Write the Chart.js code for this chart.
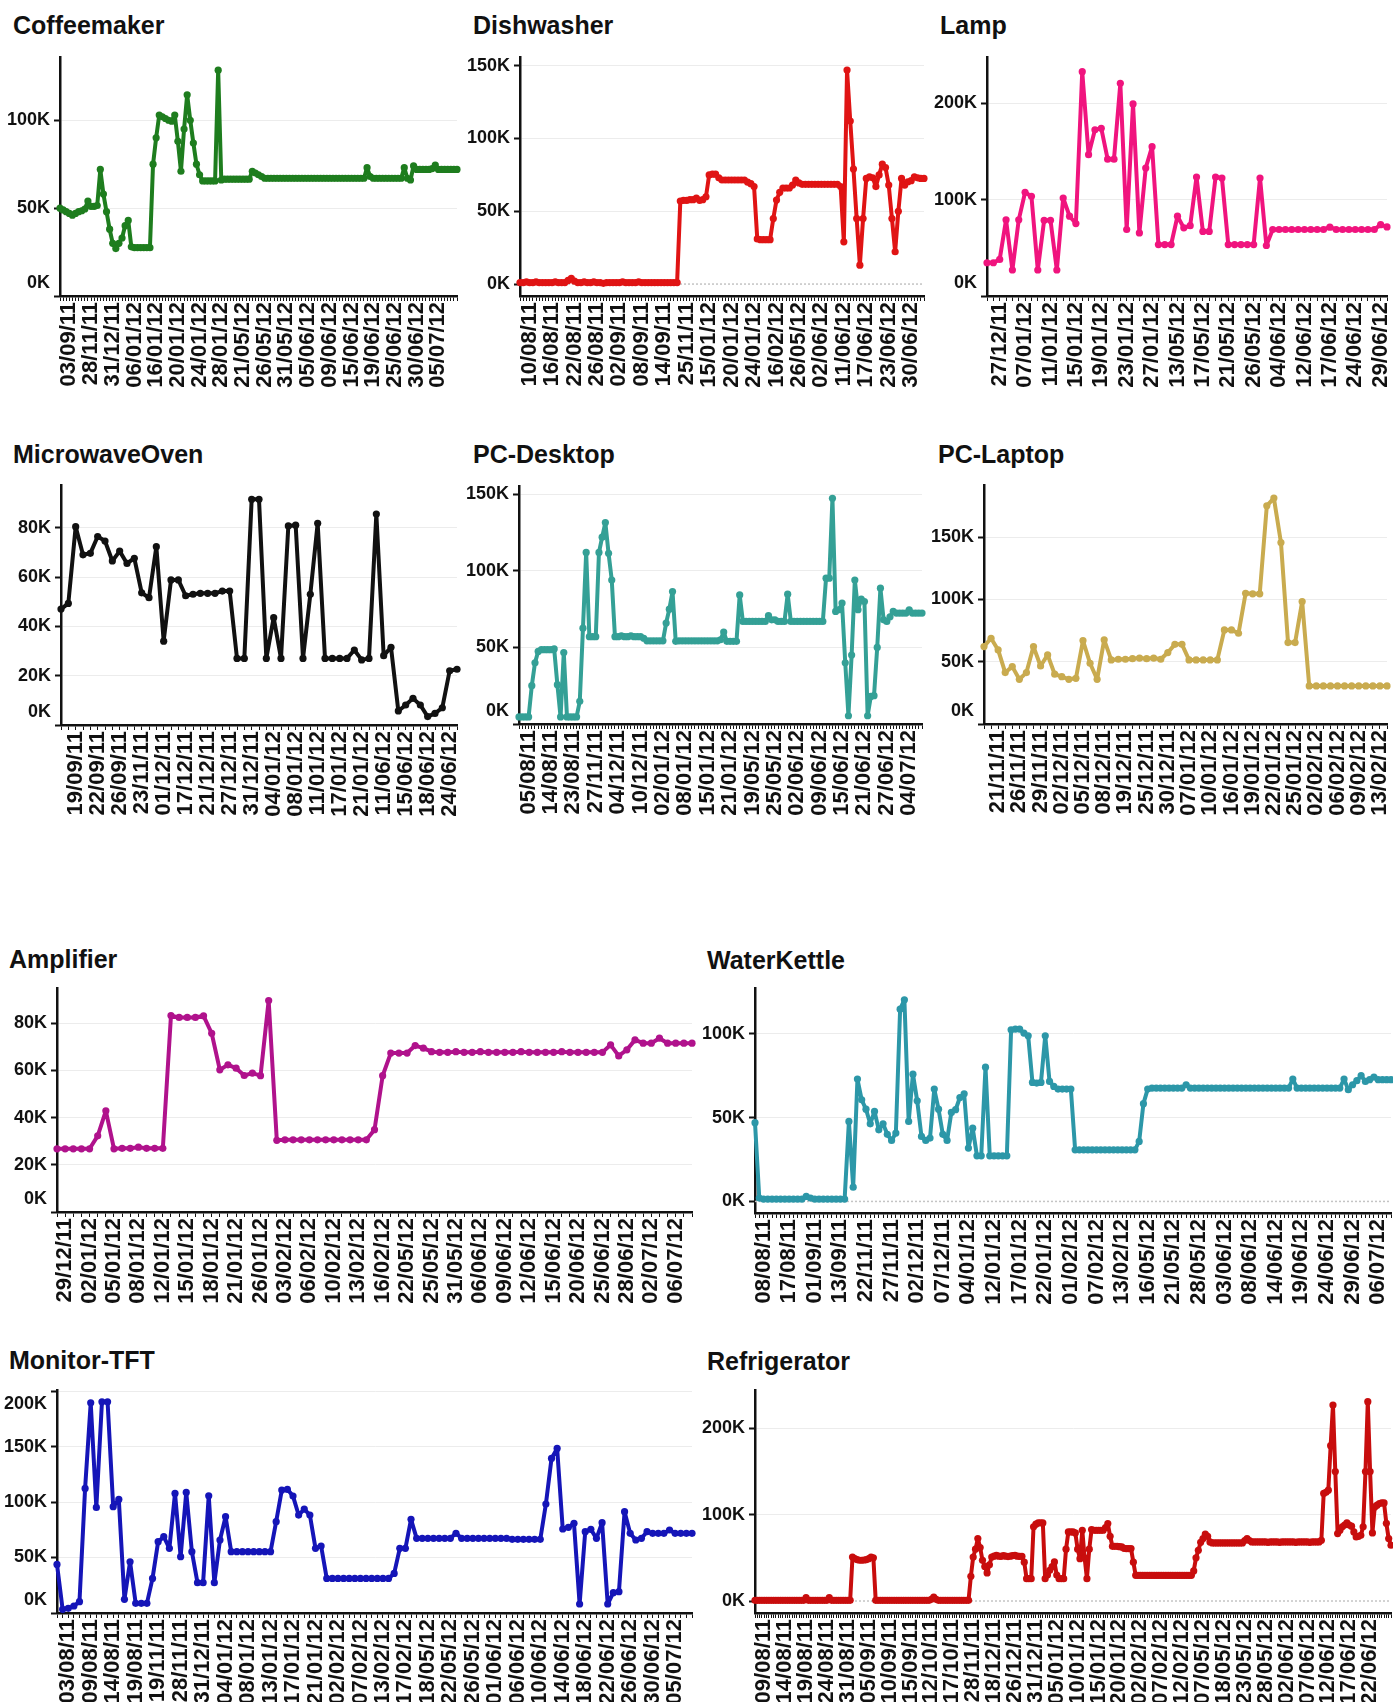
<!DOCTYPE html>
<html><head><meta charset="utf-8">
<script src="https://cdn.jsdelivr.net/npm/chart.js@4.4.1/dist/chart.umd.min.js"></script>
<style>
html,body{margin:0;padding:0;background:#fff;overflow:hidden;width:1393px;height:1702px;position:relative;}
.title{position:absolute;font:bold 25px/25px 'Liberation Sans',Arial,sans-serif;color:#111;white-space:nowrap;}
canvas{position:absolute;}
</style></head><body>
<script>
// ---------- DATA (values in thousands) ----------
const coffeeTicks = ['03/09/11','28/11/11','31/12/11','06/01/12','16/01/12','20/01/12','24/01/12','28/01/12','21/05/12','26/05/12','31/05/12','05/06/12','09/06/12','15/06/12','19/06/12','25/06/12','30/06/12','05/07/12'];
const coffeeValues = [
50,49,48,47,46,47,48,48.5,49.5,54,
51,51,51.5,72,58,48,38,30,27,30,
33,40,43,28,27.5,27.5,27.5,27.5,27.5,27.5,
75,90,103,102,101,100,99.5,103,88,71,
95,114.5,100,87,75,69,65.5,65.5,65.5,65.5,
65.5,128.5,66,66.5,66.5,66.5,66.5,66.5,66.5,66.5,
66.5,66.5,71,70,69,68,67,67,67,67,
67,67,67,67,67,67,67,67,67,67,
67,67,67,67,67,67,67,67,67,67,
67,67,67,67,67,67,67,67,67,73,
68,67,67,67,67,67,67,67,67,67,
67,73,67,66,74,72,72,72,72,72,
72.5,74.5,72,72,72,72,72,72,72];
const coffeeYTicks = [0,50,100];

const dishTicks = ['10/08/11','16/08/11','22/08/11','26/08/11','02/09/11','08/09/11','14/09/11','25/11/11','15/01/12','20/01/12','24/01/12','16/02/12','26/05/12','02/06/12','11/06/12','17/06/12','23/06/12','30/06/12'];
const dishValues = [
1,1,1.5,1,1,1.5,1,1,1,1,
1,1.5,1,1,1,2.5,4,2,1,1,
1.5,1,1,1.5,1,1,0.5,1,1,1,
1,1,1.5,1,1,1,1,1.5,1,1,
1,1,1,1,1,1,1,1,1,1,
57,57.5,57.5,58,58,59,57.5,58,60,75,
75.5,75.5,73,71.5,71.5,71.5,71.5,71.5,71.5,71.5,
71.5,70,69,67,31,30.5,30.5,30.5,30.5,45,
57.7,63,66,66,66,68,71.5,69.5,68.5,68.5,
68.5,68.5,68.5,68.5,68.5,68.5,68.5,68.5,68.5,68.5,
67,29,147,112,79,45,13,45,72.6,73.7,
73,67,75,82.4,80,68,45,22.2,50,72.6,
68,70.3,71,73.7,73,72.6,72.6];
const dishYTicks = [0,50,100,150];

const lampTicks = ['27/12/11','07/01/12','11/01/12','15/01/12','19/01/12','23/01/12','27/01/12','13/05/12','17/05/12','21/05/12','26/05/12','04/06/12','12/06/12','17/06/12','24/06/12','29/06/12'];
const lampValues = [
34.5,34.5,38,79,27,79,107.6,103.4,27,78.6,
78.6,27,101.7,82.8,75.2,232.8,146.6,172.4,174,142,
142,220.7,69,199.3,65.5,132.8,155,53.4,53.4,53.4,
82.8,70.7,73,123.4,67,67,123.4,122.4,53.4,53.4,
53.4,53.4,53.4,122.4,52.4,69,69,69,69,69,
69,69,69,69,71.4,69,69,69,69,69,
69,69,74,71.7];
const lampYTicks = [0,100,200];

const microTicks = ['19/09/11','22/09/11','26/09/11','23/11/11','01/12/11','17/12/11','21/12/11','27/12/11','31/12/11','04/01/12','08/01/12','11/01/12','17/01/12','21/01/12','11/06/12','15/06/12','18/06/12','24/06/12'];
const microValues = [
47,49.3,80.4,69,69.6,76.4,74.6,66.5,70.5,65.5,
67.6,53.6,51.6,72.3,34,58.8,58.8,52.4,53,53.4,
53.4,53.4,54.3,54.3,27,27,91.5,91.5,27,43.5,
27,80.7,81,27,53,81.8,27,27,27,27,
30.4,26.4,27,85.5,28.1,31.5,5.7,8.1,10.8,8.1,
3.4,4.7,7,22,22.6];
const microYTicks = [0,10,20,30,40,50,60,70,80,90];

const desktopTicks = ['05/08/11','14/08/11','23/08/11','27/11/11','04/12/11','10/12/11','02/01/12','08/01/12','15/01/12','21/01/12','19/05/12','25/05/12','02/06/12','09/06/12','15/06/12','21/06/12','27/06/12','04/07/12'];
const desktopValues = [
4.6,4.6,4.6,4.6,25,40,47.4,48.5,48.5,48.5,
48.5,49,25.7,4.6,46.7,4.6,4.6,4.6,4.6,14.8,
62.6,112,57,57,57,112,122,131.5,111.5,94,
57,57,57.5,57,57,57.5,57,57,57,56,
54.3,54.3,54.3,54.3,54.3,54.3,65.9,75,86.5,54,
54.3,54.3,54.3,54.3,54.3,54.3,54.3,54.3,54.3,54.3,
54.3,54.3,54.3,55,60,54,54,54,54,84.3,
67,67,67,67,67,67,67,67,70.7,68,
68,67,67,67,84.8,67,67,67,67,67,
67,67,67,67,67,67,95.2,95.2,147.4,73.5,
74.6,79,40,5.4,45,94,74.6,81.5,80,5.4,
18,18.5,50,88.7,68,67,70,73.5,72.4,72.4,
72.4,72.4,74.6,72.4,72.4,72.4,72.4];
const desktopYTicks = [0,50,100,150];

const laptopTicks = ['21/11/11','26/11/11','29/11/11','02/12/11','05/12/11','08/12/11','19/12/11','25/12/11','30/12/11','07/01/12','10/01/12','16/01/12','19/01/12','22/01/12','25/01/12','02/02/12','06/02/12','09/02/12','13/02/12'];
const laptopValues = [
62.2,68.9,59.5,41.3,46.1,35.9,41.3,62.2,46.6,55.5,
40,38,35.9,36.7,67,48.8,35.9,67.6,51.5,52,
52,52.5,53,52.5,53,52,57.4,64,64,51.5,
51.5,51.5,51.5,51.5,75.6,75.6,72.9,105,104.6,104.6,
175.3,181.5,145.8,65.4,65.4,98.4,30.6,30.6,30.6,30.6,
30.6,30.6,30.6,30.6,30.6,30.6,30.6,30.6];
const laptopYTicks = [0,50,100,150];

const ampTicks = ['29/12/11','02/01/12','05/01/12','08/01/12','12/01/12','15/01/12','18/01/12','21/01/12','26/01/12','03/02/12','06/02/12','10/02/12','13/02/12','16/02/12','22/05/12','25/05/12','31/05/12','06/06/12','09/06/12','12/06/12','15/06/12','20/06/12','25/06/12','28/06/12','02/07/12','06/07/12'];
const ampValues = [
26.8,26.8,26.8,26.8,26.8,32.3,42.9,26.8,27,27,
27.5,27,27,27,83.3,82.5,82.5,82.5,83.2,75.8,
60.3,62.4,61,57.9,58.9,57.8,89.7,30.4,30.6,30.6,
30.6,30.6,30.6,30.6,30.6,30.6,30.6,30.6,30.6,34.9,
57.8,67.4,67.4,67.4,70.6,69.5,68,67.7,67.7,68,
67.7,67.7,68,67.7,67.7,67.7,67.7,68,67.7,67.7,
67.7,67.7,68,67.7,67.7,67.7,67.7,67.7,70.9,66.2,
68.8,73,71.6,71.6,73.7,71.6,71.6,71.6,71.6];
const ampYTicks = [0,10,20,30,40,50,60,70,80,90];

const kettleTicks = ['08/08/11','17/08/11','01/09/11','13/09/11','22/11/11','27/11/11','02/12/11','07/12/11','04/01/12','12/01/12','17/01/12','22/01/12','01/02/12','07/02/12','13/02/12','16/05/12','21/05/12','28/05/12','03/06/12','08/06/12','14/06/12','19/06/12','24/06/12','29/06/12','06/07/12'];
const kettleValues = [
47,2,1.4,1.4,1.4,1.4,1.4,1.4,1.4,1.4,
1.4,1.4,3,2,1.4,1.4,1.4,1.4,1.4,1.4,
1.4,1.4,47.7,8.5,73,60.6,55,46.3,53.7,42.7,
46.3,40,36.4,40.8,114.7,120.3,47.7,75.9,60,38.8,
36.4,37.8,67,55,40,36.4,53.1,54.7,62,64.2,
31.8,43.7,27.2,27.2,80.1,27.2,27.2,27.2,27.2,27.2,
102.4,102.8,102.8,100.4,98.8,71,70.6,71,98.8,71.6,
68.6,67,67,67,67,30.8,30.8,30.8,30.8,30.8,
30.8,30.8,30.8,30.8,30.8,30.8,30.8,30.8,30.8,30.8,
35.8,58.3,67,67.6,67.6,67.6,67.6,67.6,67.6,67.6,
67.6,69.6,67.6,67.6,67.6,67.6,67.6,67.6,67.6,67.6,
67.6,67.6,67.6,67.6,67.6,67.6,67.6,67.6,67.6,67.6,
67.6,67.6,67.6,67.6,67.6,67.6,73,67.6,67.6,67.6,
67.6,67.6,67.6,67.6,67.6,67.6,67.6,67.6,73,66.6,
69.6,72,75,71.6,72.6,74.2,72.6,72.6,72.6,72.6];
const kettleYTicks = [0,50,100];

const monitorTicks = ['03/08/11','09/08/11','14/08/11','19/08/11','19/11/11','28/11/11','31/12/11','04/01/12','08/01/12','13/01/12','17/01/12','21/01/12','02/02/12','07/02/12','13/02/12','17/02/12','18/05/12','22/05/12','26/05/12','01/06/12','06/06/12','10/06/12','14/06/12','18/06/12','22/06/12','26/06/12','30/06/12','05/07/12'];
const monitorValues = [
43.8,3.3,4.2,6.3,10.2,112.3,189.5,95.2,190.4,190.4,
95.8,102.4,12.3,46.2,8.7,8.7,8.7,31.2,64.3,68.8,
58.3,107.8,50.8,108.7,55.3,27.3,27.3,105.7,27.3,65.8,
86.8,55.3,55.3,55.3,55.3,55.3,55.3,55.3,55.3,82.3,
110.8,111.4,105.4,88.3,93.7,88.3,58.3,60.4,31.2,31.2,
31.2,31.2,31.2,31.2,31.2,31.2,31.2,31.2,31.2,31.2,
35.7,58.3,58.3,84.4,67.3,67.3,67.3,67.3,67.3,67.3,
67.3,71.8,67.3,67.3,67.3,67.3,67.3,67.3,67.3,67.3,
67.3,66.4,66.4,66.4,66.4,66.4,66.4,98.2,139.3,148.3,
75.7,77.2,80.8,8.1,73.3,75.4,67.3,81.4,8.1,18.3,
19.2,91.3,71.8,65.8,67.3,73.3,71.8,71.8,71.8,74.8,
71.8,71.8,71.8,71.8];
const monitorYTicks = [0,50,100,150,200];

const fridgeTicks = ['09/08/11','14/08/11','19/08/11','24/08/11','31/08/11','05/09/11','10/09/11','15/09/11','12/10/11','17/10/11','28/11/11','18/12/11','26/12/11','31/12/11','05/01/12','10/01/12','15/01/12','20/01/12','02/02/12','07/02/12','12/02/12','07/05/12','18/05/12','23/05/12','28/05/12','02/06/12','07/06/12','12/06/12','17/06/12','22/06/12'];
const fridgeValues = [
0.8,0.8,0.8,0.8,0.8,0.8,0.8,0.8,0.8,0.8,
0.8,0.8,0.8,0.8,0.8,0.8,0.8,0.8,0.8,0.8,
0.8,0.8,3.9,0.8,0.8,0.8,0.8,0.8,0.8,0.8,
0.8,0.8,3.9,0.8,0.8,0.8,0.8,0.8,0.8,0.8,
0.8,0.8,51,49,48,47.2,47.2,47.5,48,49,
51,50,0.8,0.8,0.8,0.8,0.8,0.8,0.8,0.8,
0.8,0.8,0.8,0.8,0.8,0.8,0.8,0.8,0.8,0.8,
0.8,0.8,0.8,0.8,0.8,0.8,2,4.6,2,0.8,
0.8,0.8,0.8,0.8,0.8,0.8,0.8,0.8,0.8,0.8,
0.8,0.8,0.8,28.6,51,60,72.3,62,47.2,40,
32.5,42,51,52,53,52,51.8,52.5,52,51.5,
52,52.5,53,52,51.8,51.8,45,25.9,25.9,25.9,
85.9,89,90.5,90.5,90.5,25.9,30,35.6,40,45.3,
30,25.9,25.9,25.9,60,80.1,80.1,80.1,78.9,60,
49.1,82,50,25.9,60,82.8,82,82,82,82,
82,85,89.7,75,63.4,63.4,63.4,63,62.7,61,
60.7,60.7,60.7,45,29.8,29.8,29.8,29.8,29.8,29.8,
29.8,29.8,29.8,29.8,29.8,29.8,29.8,29.8,29.8,29.8,
29.8,29.8,29.8,29.8,29.8,29.8,29.8,29.8,29.8,34.8,
50,58.8,68,72.3,77.4,75,68.5,67.3,67.3,67.3,
67.3,67.3,67.3,67.3,67.3,67.3,67.3,67.3,67.3,67.3,
67.3,70,72.3,70,68.5,68.5,68.5,68.5,68.5,68.5,
68.5,68,68.5,68.5,68.5,68.5,68,68.5,68.5,68.5,
68.5,68.5,68.5,68,68.5,68.5,68.5,68.5,68.5,68,
68.5,68.5,68.5,68.5,70.4,124.6,126,128.4,180,227,
150,78.1,82,85.9,88,90.5,88,86.7,80,74.3,
75,76.2,85.9,150,231,150,78.9,109,111,113,
113.7,113.7,90,72.3,64.6];
const fridgeYTicks = [0,100,200];

// ---------- LAYOUT / STYLE ----------
const charts = [
  {title:'Coffeemaker',  tx:13,  ty:13,   ax:60,  top:57,   bottom:296,  right:457,  yW:60, color:'#1e7d1e', values:coffeeValues,  ticks:coffeeTicks,  start:3, step:7, min:0,     max:136,   yTicks:coffeeYTicks},
  {title:'Dishwasher',   tx:473, ty:13,   ax:520, top:57,   bottom:296,  right:924,  yW:60, color:'#e01414', values:dishValues,    ticks:dishTicks,    start:3, step:7, min:-8.2,  max:156,   yTicks:dishYTicks},
  {title:'Lamp',         tx:940, ty:13,   ax:987, top:57,   bottom:296,  right:1387, yW:60, color:'#f0147e', values:lampValues,    ticks:lampTicks,    start:2, step:4, min:0,     max:248,   yTicks:lampYTicks},
  {title:'MicrowaveOven',tx:13,  ty:442,  ax:61,  top:485,  bottom:725,  right:457,  yW:61, color:'#111111', values:microValues,   ticks:microTicks,   start:2, step:3, min:0,     max:97.3,  yTicks:microYTicks, labelEvery:20},
  {title:'PC-Desktop',   tx:473, ty:442,  ax:519, top:486,  bottom:724,  right:922,  yW:60, color:'#34a096', values:desktopValues, ticks:desktopTicks, start:3, step:7, min:0,     max:155.4, yTicks:desktopYTicks},
  {title:'PC-Laptop',    tx:938, ty:442,  ax:984, top:485,  bottom:724,  right:1387, yW:60, color:'#c9ab4f', values:laptopValues,  ticks:laptopTicks,  start:2, step:3, min:0,     max:192,   yTicks:laptopYTicks},
  {title:'Amplifier',    tx:9,   ty:947,  ax:57,  top:988,  bottom:1212, right:692,  yW:57, color:'#b0128c', values:ampValues,     ticks:ampTicks,     start:1, step:3, min:0,     max:95,    yTicks:ampYTicks, labelEvery:20},
  {title:'WaterKettle',  tx:707, ty:948,  ax:755, top:988,  bottom:1213, right:1391, yW:60, color:'#2c97a8', values:kettleValues,  ticks:kettleTicks,  start:2, step:6, min:-6.9,  max:127.3, yTicks:kettleYTicks},
  {title:'Monitor-TFT',  tx:9,   ty:1348, ax:57,  top:1390, bottom:1613, right:692,  yW:57, color:'#1515b8', values:monitorValues, ticks:monitorTicks, start:2, step:4, min:0,     max:201,   yTicks:monitorYTicks, shiftTop:200},
  {title:'Refrigerator', tx:707, ty:1349, ax:755, top:1390, bottom:1613, right:1391, yW:60, color:'#c80d0d', values:fridgeValues,  ticks:fridgeTicks,  start:4, step:9, min:-13.9, max:244.5, yTicks:fridgeYTicks}
];

const FONT = "'Liberation Sans', Arial, sans-serif";

const zeroLine = {
  id: 'zeroLine',
  beforeDatasetsDraw(chart, args, opts) {
    if (!opts || !opts.show) return;
    const y = chart.scales.y.getPixelForValue(0);
    const {left, right} = chart.chartArea;
    const ctx = chart.ctx;
    ctx.save();
    ctx.strokeStyle = '#c4c4c4';
    ctx.lineWidth = 1.5;
    ctx.setLineDash([2, 2]);
    ctx.beginPath(); ctx.moveTo(left, y); ctx.lineTo(right, y); ctx.stroke();
    ctx.restore();
  }
};

function makeChart(cfg) {
  const padT = 10, padR = 8, xH = 100;
  const cl = cfg.ax - cfg.yW, ct = cfg.top - padT;
  const w = cfg.right - cl + padR, h = cfg.bottom - ct + xH;

  const t = document.createElement('div');
  t.className = 'title'; t.textContent = cfg.title;
  t.style.left = cfg.tx + 'px'; t.style.top = cfg.ty + 'px';
  document.body.appendChild(t);

  const canvas = document.createElement('canvas');
  canvas.width = w; canvas.height = h;
  canvas.style.left = cl + 'px'; canvas.style.top = ct + 'px';
  canvas.style.width = w + 'px'; canvas.style.height = h + 'px';
  document.body.appendChild(canvas);

  const labels = cfg.values.map((_, i) =>
    (i >= cfg.start && (i - cfg.start) % cfg.step === 0) ? (cfg.ticks[(i - cfg.start) / cfg.step] || '') : '');

  new Chart(canvas, {
    type: 'line',
    data: {
      labels: labels,
      datasets: [{
        data: cfg.values,
        borderColor: cfg.color, backgroundColor: cfg.color,
        pointBackgroundColor: cfg.color, pointBorderColor: cfg.color,
        pointRadius: 3.6, pointBorderWidth: 0, pointHoverRadius: 3.6,
        borderWidth: 4, borderJoinStyle: 'round', borderCapStyle: 'round',
        tension: 0, fill: false, clip: false
      }]
    },
    plugins: [zeroLine],
    options: {
      responsive: false, animation: false, devicePixelRatio: 1,
      events: [],
      layout: {padding: {top: padT, right: padR, left: 0, bottom: 0}},
      plugins: {legend: {display: false}, tooltip: {enabled: false}, zeroLine: {show: cfg.min < 0}},
      scales: {
        x: {
          type: 'category', offset: false,
          grid: {display: true, drawOnChartArea: false, drawTicks: true, tickLength: 5, tickColor: '#111', tickWidth: 1},
          border: {display: true, color: '#111', width: 2.5},
          ticks: {autoSkip: false, maxRotation: 90, minRotation: 90, padding: 1, color: '#111',
                  font: {family: FONT, size: 22, weight: 'bold', lineHeight: 1.2}},
          afterFit: s => { s.height = xH; s.paddingLeft = 0; s.paddingRight = 0; }
        },
        y: {
          type: 'linear', min: cfg.min, max: cfg.max,
          afterBuildTicks: s => { s.ticks = cfg.yTicks.map(v => ({value: v})); },
          grid: {
            color: c => (c.tick && c.tick.value === 0) ? 'rgba(0,0,0,0)' : '#ececec',
            lineWidth: 1, drawTicks: true, tickLength: 6, tickColor: '#111', tickWidth: 2
          },
          border: {display: true, color: '#111', width: 2.5},
          ticks: {
            padding: 4, color: '#111',
            font: {family: FONT, size: 18, weight: 'bold', lineHeight: 1.4},
            callback: v => {
              if (cfg.labelEvery && v % cfg.labelEvery !== 0) return '';
              const s = v + 'K';
              if (v === 0 && cfg.min === 0) return [s, ''];
              if (cfg.shiftTop !== undefined && v === cfg.shiftTop) return ['', s];
              return s;
            }
          },
          afterFit: s => { s.width = cfg.yW; s.paddingTop = 0; s.paddingBottom = 0; }
        }
      }
    }
  });
}

charts.forEach(makeChart);
</script>
</body></html>
